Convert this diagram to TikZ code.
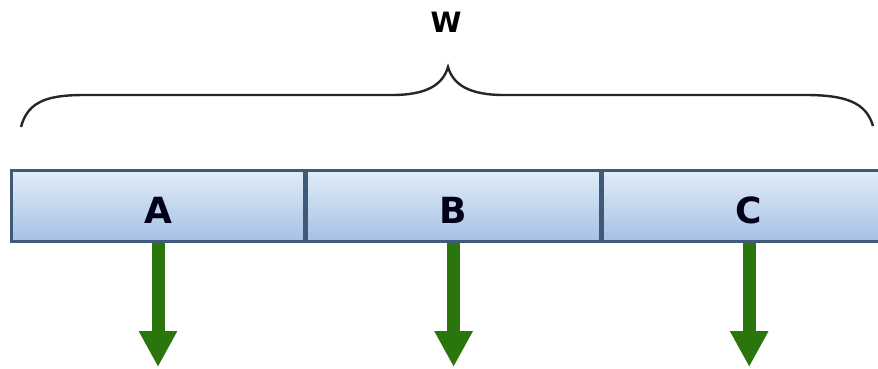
\documentclass[tikz,border=0pt]{standalone}
\usepackage{fontspec}
\setmainfont{DejaVu Sans}
\usetikzlibrary{arrows.meta,positioning}
\definecolor{cellline}{RGB}{62,90,120}
\definecolor{celltop}{RGB}{226,236,248}
\definecolor{cellbot}{RGB}{165,193,228}
\definecolor{pullgreen}{RGB}{42,118,12}
\tikzset{
  cell/.style={draw=cellline,line width=1.3pt,top color=celltop,bottom color=cellbot,
    minimum width=146.5pt,minimum height=35.5pt,inner sep=0pt,
    text height=17pt,text depth=0pt,
    font=\bfseries\fontsize{18}{22}\selectfont,text=black!90!blue},
  pull/.style={draw=pullgreen,line width=6.5pt,-{Triangle[width=18pt,length=18pt]}}
}
\begin{document}
\begin{tikzpicture}[x=0.5pt,y=-0.5pt]
\useasboundingbox (0,0) rectangle (878,369);
% Brace ueber der ganzen Breite
\draw[line width=1.2pt,black!85] (21,127) .. controls (28,100) and (50,95) .. (85,95) -- (392,95)
  .. controls (428,95) and (443,84) .. (448,67) .. controls (453,84) and (468,95) .. (504,95)
  -- (805,95) .. controls (845,95) and (866,102) .. (873,126);
\node[font=\bfseries\fontsize{14}{16}\selectfont] (w) at (446,22) {W};
% Felder
\node[cell] (a) at (158,206) {A};
\node[cell,right=0pt of a] (b) {B};
\node[cell,right=0pt of b] (c) {C};
% Pfeile nach unten
\coordinate (a-out) at (a.south |- 0,367);
\coordinate (b-out) at (b.south |- 0,367);
\coordinate (c-out) at (c.south |- 0,367);
\draw[pull] (a.south) -- (a-out);
\draw[pull] (b.south) -- (b-out);
\draw[pull] (c.south) -- (c-out);
\end{tikzpicture}
\end{document}
